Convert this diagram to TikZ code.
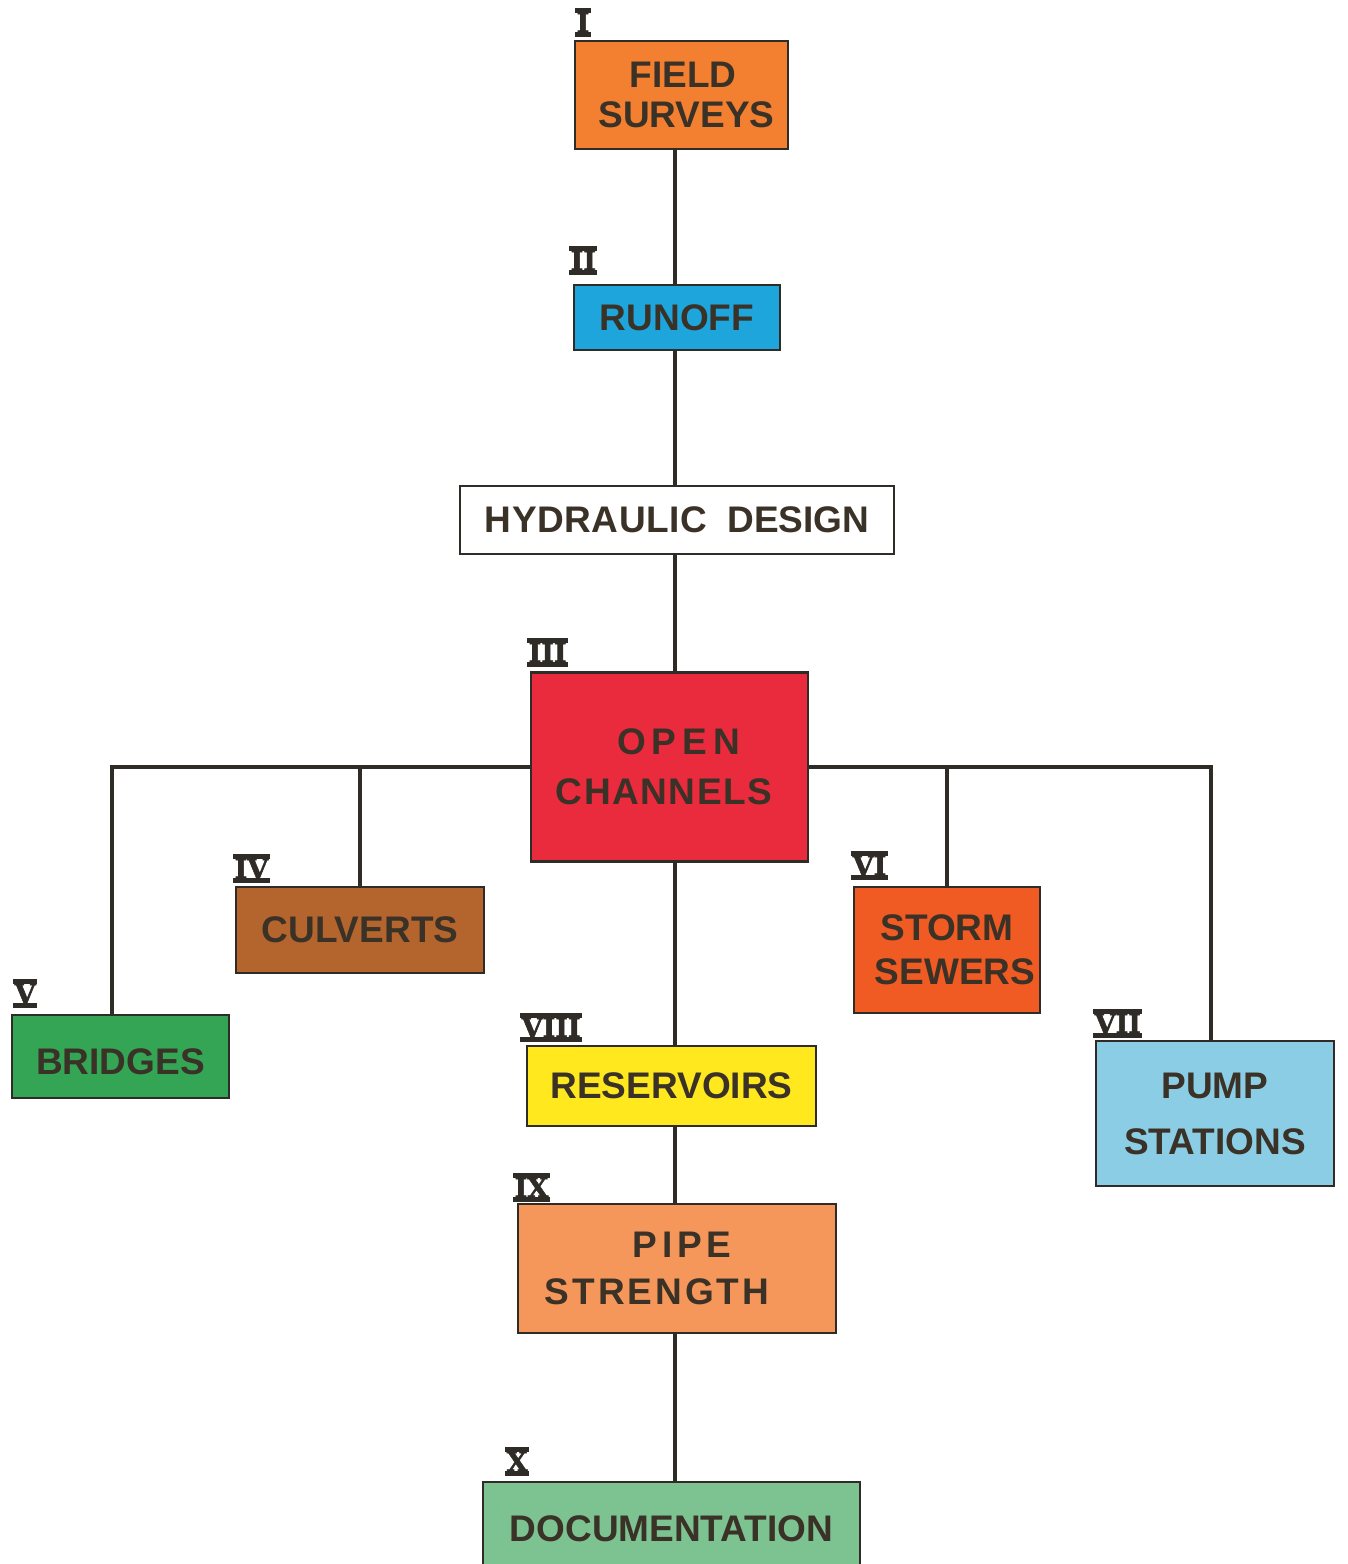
\documentclass[tikz,border=0pt]{standalone}
\usepackage{fontspec}
\setmainfont{Liberation Sans}
\newfontfamily\numfont[BoldFeatures={FakeBold=2}]{DejaVu Serif}
\definecolor{txtc}{HTML}{3A3127}
\definecolor{linec}{HTML}{2F2B26}
\definecolor{cfs}{HTML}{F28030}
\definecolor{cro}{HTML}{1EA5DC}
\definecolor{coc}{HTML}{EA2A3D}
\definecolor{ccu}{HTML}{B4652D}
\definecolor{cbr}{HTML}{34A555}
\definecolor{css}{HTML}{F05A23}
\definecolor{cps}{HTML}{8CCDE6}
\definecolor{cre}{HTML}{FFE81E}
\definecolor{cpi}{HTML}{F5965A}
\definecolor{cdoc}{HTML}{7DC391}
\newcommand\rnum[1]{\vbox{\offinterlineskip\hrule height 4.5pt\hbox{\kern1.5pt\numfont\bfseries\fontsize{27}{27}\selectfont #1\kern1.5pt}\hrule height 4.5pt}}
\tikzset{
  box/.style={draw=linec, line width=2.8pt, rectangle, inner sep=0pt, align=center,
    text=txtc, font=\fontsize{37}{40}\selectfont\bfseries},
  lsp/.style={font=\fontsize{37}{#1}\selectfont\bfseries},
  conn/.style={draw=linec, line width=3.5pt},
  rn/.style={inner sep=0pt, anchor=south west, text=linec}
}
\begin{document}
\begin{tikzpicture}[x=1pt,y=-1pt]
\useasboundingbox (0,0) rectangle (1348,1564);
\fill[white] (0,0) rectangle (1348,1564);
\clip (0,0) rectangle (1348,1564);
\coordinate (sp) at (675,0);
\coordinate (jb) at (112,767);
\coordinate (jp) at (1211,767);
% boxes
\node[box, fill=cfs, minimum width=213pt, minimum height=108pt, lsp=40] (fs) at (681.5,95) {\hspace*{3pt}FIELD\\\hspace*{10pt}SURVEYS};
\node[box, fill=cro, minimum width=206pt, minimum height=65pt] (ro) at (677,317.5) {RUNOFF};
\node[box, fill=white, minimum width=434pt, minimum height=68pt] (hd) at (677,520) {H\kern0.6pt Y\kern0.6pt D\kern0.6pt R\kern0.6pt A\kern0.6pt U\kern0.6pt L\kern0.6pt I\kern0.6pt C\hspace{20pt}DESIGN};
\node[box, fill=coc, minimum width=277pt, minimum height=189pt, lsp=50] (oc) at (669.5,767) {\hspace*{18pt}O\kern6pt P\kern6pt E\kern6pt N\\C\kern1.5pt H\kern1.5pt A\kern1.5pt N\kern1.5pt N\kern1.5pt E\kern1.5pt L\kern1.5pt S\hspace*{11pt}};
\node[box, fill=ccu, minimum width=248pt, minimum height=86pt] (cu) at (360,930) {CULVERTS};
\node[box, fill=cbr, minimum width=217pt, minimum height=83pt, text height=36pt, text depth=0pt] (br) at (120.5,1056.5) {BRIDGES};
\node[box, fill=css, minimum width=186pt, minimum height=126pt, lsp=44] (ss) at (947,950) {STORM\\\hspace*{16pt}SEWERS};
\node[box, fill=cps, minimum width=238pt, minimum height=145pt, lsp=56] (ps) at (1215,1113.5) {PUMP\\STATIONS};
\node[box, fill=cre, minimum width=289pt, minimum height=80pt] (re) at (671.5,1086) {RESERVOIRS};
\node[box, fill=cpi, minimum width=318pt, minimum height=129pt, lsp=47] (pi) at (677,1268.5) {\hspace*{10pt}P\kern5pt I\kern5pt P\kern5pt E\\S\kern3pt T\kern3pt R\kern3pt E\kern3pt N\kern3pt G\kern3pt T\kern3pt H\hspace*{40pt}};
\node[box, fill=cdoc, minimum width=377pt, minimum height=93pt] (doc) at (671.5,1528.5) {DOCUMENTATION};
% connectors
\draw[conn] (fs.south -| sp) -- (ro.north -| sp);
\draw[conn] (ro.south -| sp) -- (hd.north -| sp);
\draw[conn] (hd.south -| sp) -- (oc.north -| sp);
\draw[conn] (oc.south -| sp) -- (re.north -| sp);
\draw[conn] (re.south -| sp) -- (pi.north -| sp);
\draw[conn] (pi.south -| sp) -- (doc.north -| sp);
\draw[conn] (oc.west |- jb) -- (jb) -- (jb |- br.north);
\draw[conn] (cu.north) -- (cu.north |- jb);
\draw[conn] (oc.east |- jp) -- (jp) -- (jp |- ps.north);
\draw[conn] (ss.north) -- (ss.north |- jp);
% numerals
\node[rn] (n1) at (575,37) {\rnum{I}};
\node[rn] (n2) at (569,275) {\rnum{II}};
\node[rn] (n3) at (527,667) {\rnum{III}};
\node[rn] (n4) at (233,883) {\rnum{IV}};
\node[rn] (n5) at (13,1008) {\rnum{V}};
\node[rn] (n6) at (851,880) {\rnum{VI}};
\node[rn] (n7) at (1093,1038) {\rnum{VII}};
\node[rn] (n8) at (520,1042) {\rnum{VIII}};
\node[rn] (n9) at (513,1202) {\rnum{IX}};
\node[rn] (n10) at (505,1476) {\rnum{X}};
\end{tikzpicture}
\end{document}
